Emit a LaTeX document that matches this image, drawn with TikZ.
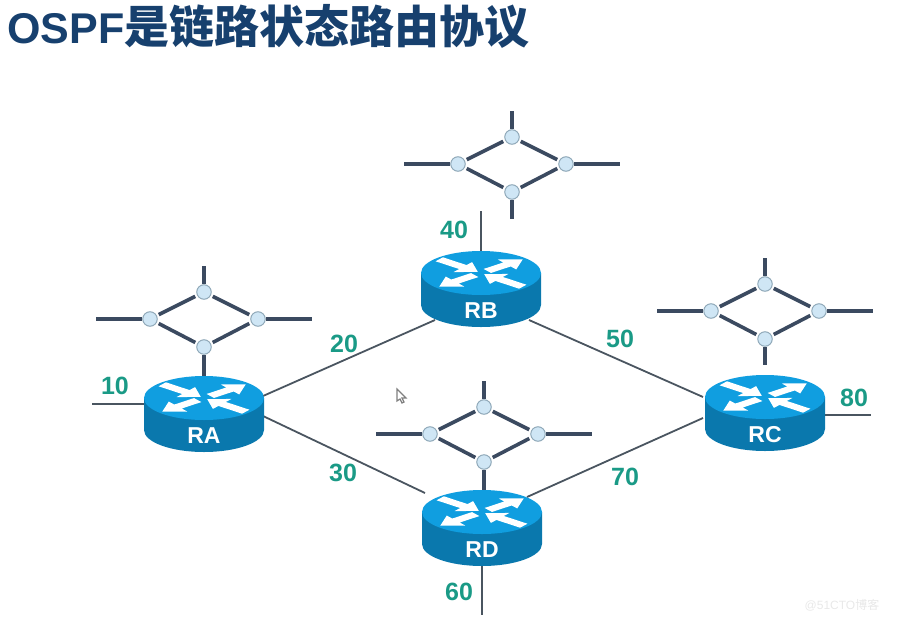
\documentclass[tikz,border=0pt]{standalone}
\usepackage{fontspec}
\setmainfont{Liberation Sans}
\newfontfamily\cjk{Noto Sans CJK SC}
\usetikzlibrary{shapes.geometric}
\definecolor{titleblue}{HTML}{17406E}
\definecolor{lanline}{HTML}{3B4A60}
\definecolor{lanfill}{HTML}{CFE6F5}
\definecolor{lanedge}{HTML}{8FA8B8}
\definecolor{linkgray}{HTML}{4A5560}
\definecolor{costgreen}{HTML}{1A9A86}
\definecolor{routertop}{HTML}{109EE0}
\definecolor{routerside}{HTML}{0A78AD}
\tikzset{
  lanport/.style={circle,draw=lanedge,line width=1pt,fill=lanfill,minimum size=14.5pt,inner sep=0pt},
  lanwire/.style={draw=lanline,line width=3.6pt},
  lanring/.style={lanwire,shorten >=2pt,shorten <=2pt},
  link/.style={draw=linkgray,line width=1.8pt},
  routerbox/.style={ellipse,minimum width=120pt,minimum height=44pt,inner sep=0pt},
  routername/.style={text=white,font=\bfseries\fontsize{23}{23}\selectfont,inner sep=0pt},
  cost/.style={text=costgreen,font=\bfseries\fontsize{25}{25}\selectfont,inner sep=0pt}
}
\begin{document}
\begin{tikzpicture}[x=1pt,y=-1pt]
\useasboundingbox (0,0) rectangle (899,621);
%title
\node[anchor=base west,text=titleblue,inner sep=0pt] (title) at (7,43)
     {\fontsize{43}{43}\selectfont\bfseries OSPF{\cjk\fontsize{45}{45}\selectfont\bfseries 是链路状态路由协议}};
%router nodes
\foreach \n/\x/\y in {RA/204/398,RB/481/273,RC/765/397,RD/482/512}
{
  \node[routerbox] (\n) at (\x,\y) {};
}
%links between routers
\coordinate (RAup) at (263,396);
\coordinate (RAdown) at (263,416);
\coordinate (RBleft) at (435,320);
\coordinate (RBright) at (529,320);
\coordinate (RCup) at (703,397);
\coordinate (RCdown) at (703,418);
\coordinate (RDleft) at (425,493);
\coordinate (RDright) at (527,497);
\draw[link] (RAup) -- (RBleft);
\draw[link] (RBright) -- (RCup);
\draw[link] (RAdown) -- (RDleft);
\draw[link] (RDright) -- (RCdown);
%router stubs
\coordinate (RAend) at (92,404);
\coordinate (RBend) at (481,211);
\coordinate (RCend) at (871,415);
\coordinate (RDend) at (482,615);
\draw[link] (RA) -- (RA.center |- RAend) -- (RAend);
\draw[link] (RB) -- (RBend);
\draw[link] ([yshift=-18pt]RC.east) -- (RCend);
\draw[link] (RD) -- (RDend);
%attached networks
\foreach \n/\x/\y in {RAlan/204/319,RBlan/512/164,RClan/765/311,RDlan/484/434}
{
  \node[lanport] (\n-t) at (\x,\y-27) {};
  \node[lanport] (\n-b) at (\x,\y+28) {};
  \node[lanport] (\n-l) at (\x-54,\y) {};
  \node[lanport] (\n-r) at (\x+54,\y) {};
  \coordinate (\n-tend) at (\x,\y-53);
  \coordinate (\n-lend) at (\x-108,\y);
  \coordinate (\n-rend) at (\x+108,\y);
  \draw[lanring] (\n-t) -- (\n-l);
  \draw[lanring] (\n-t) -- (\n-r);
  \draw[lanring] (\n-b) -- (\n-l);
  \draw[lanring] (\n-b) -- (\n-r);
  \draw[lanwire] (\n-t) -- (\n-tend);
  \draw[lanwire] (\n-l) -- (\n-lend);
  \draw[lanwire] (\n-r) -- (\n-rend);
}
\coordinate (RBlan-bend) at (512,219);
\coordinate (RClan-bend) at (765,365);
\draw[lanwire] (RBlan-b) -- (RBlan-bend);
\draw[lanwire] (RClan-b) -- (RClan-bend);
\draw[lanwire] (RAlan-b) -- (RA);
\draw[lanwire] (RDlan-b) -- (RDlan-b |- RD);
%router bodies
\foreach \n/\x/\y in {RA/204/398,RB/481/273,RC/765/397,RD/482/512}
{
  \fill[routerside] (\x-60,\y) -- (\x-60,\y+32) arc[start angle=180,end angle=360,x radius=60,y radius=-22]
       -- (\x+60,\y) -- cycle;
  \fill[routertop] (\x,\y) ellipse[x radius=60,y radius=22];
  \begin{scope}[shift={(\x,\y)}]
    \foreach \a in {38,218}
    {
      \fill[white,yscale=.42,rotate=\a] (8,-6) -- (33,-6) -- (33,-15) -- (53,0) -- (33,15) -- (33,6) -- (8,6) -- cycle;
    }
    \foreach \a in {142,322}
    {
      \fill[white,yscale=.42,rotate=\a] (53,-6) -- (23,-6) -- (23,-15) -- (4,0) -- (23,15) -- (23,6) -- (53,6) -- cycle;
    }
  \end{scope}
  \node[routername] (\n-name) at (\x,\y+38) {\n};
}
%link costs
\node[cost] (c10) at (115,386) {10};
\node[cost] (c20) at (344,344) {20};
\node[cost] (c30) at (343,473) {30};
\node[cost] (c40) at (454,230) {40};
\node[cost] (c50) at (620,339) {50};
\node[cost] (c60) at (459,592) {60};
\node[cost] (c70) at (625,477) {70};
\node[cost] (c80) at (854,398) {80};
%mouse pointer
\draw[gray,fill=white,line width=1.2pt] (397,389) -- (397,401) -- (400,399) -- (402,403)
     -- (404,402) -- (402,398) -- (406,398) -- cycle;
%watermark
\node[text=black!9,inner sep=0pt] (mark) at (842,605)
     {\fontsize{12}{12}\selectfont @51CTO{\cjk 博客}};
\end{tikzpicture}
\end{document}
